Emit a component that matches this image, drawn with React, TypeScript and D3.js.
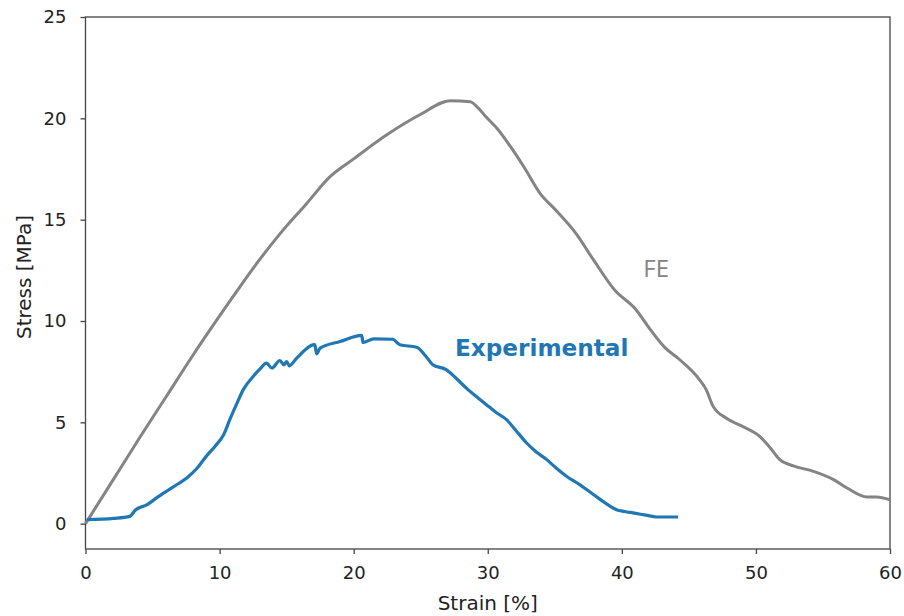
import React, { useEffect, useRef } from 'react'
import * as d3 from 'd3'

// FE simulation curve (strain %, stress MPa)
const feStrain = [0, 2, 4, 6, 8, 10, 11, 12.5, 14.5, 16.5, 18.2, 20, 22.5, 25, 27.2, 28.7, 29.3, 29.9, 30.7, 31.7, 32.7, 33.9, 35.1, 36.6, 37.9, 39.5, 41.0, 42.1, 43.2, 44.3, 45.8, 46.3, 46.8, 47.8, 49.0, 50.3, 51.0, 51.8, 52.8, 54.3, 55.8, 56.8, 58.3, 59.0, 60]
const feStress = [0, 2.1, 4.2, 6.25, 8.3, 10.25, 11.2, 12.6, 14.3, 15.8, 17.1, 18.0, 19.2, 20.2, 20.87, 20.82, 20.5, 20.05, 19.5, 18.6, 17.6, 16.3, 15.45, 14.3, 13.0, 11.5, 10.6, 9.6, 8.7, 8.1, 7.1, 6.6, 5.8, 5.2, 4.8, 4.3, 3.8, 3.15, 2.85, 2.58, 2.17, 1.76, 1.32, 1.32, 1.18]

// experimental curve
const expStrain = [0.1, 2.1, 3.3, 3.7, 4.6, 5.3, 6.05, 6.8, 7.55, 8.3, 9.0, 9.7, 10.3, 10.8, 11.3, 11.8, 12.5, 13.0, 13.5, 13.9, 14.5, 14.8, 15.0, 15.2, 15.75, 17.1, 17.24, 17.5, 19.0, 20.6, 20.7, 21.5, 22.9, 23.45, 24.7, 25.4, 25.9, 26.9, 27.6, 28.4, 29.1, 29.9, 30.6, 31.4, 32.1, 32.9, 33.6, 34.4, 35.1, 35.9, 36.8, 37.9, 38.7, 39.6, 40.2, 40.85, 41.8, 42.6, 43.2, 44.2]
const expStress = [0.2, 0.26, 0.36, 0.66, 0.94, 1.27, 1.6, 1.92, 2.25, 2.72, 3.32, 3.85, 4.39, 5.2, 5.95, 6.65, 7.26, 7.62, 7.92, 7.68, 8.05, 7.84, 8.0, 7.79, 8.17, 8.83, 8.38, 8.66, 8.99, 9.29, 8.94, 9.12, 9.1, 8.83, 8.7, 8.25, 7.84, 7.6, 7.2, 6.69, 6.3, 5.87, 5.5, 5.13, 4.6, 3.98, 3.55, 3.16, 2.75, 2.33, 1.95, 1.43, 1.05, 0.69, 0.6, 0.53, 0.42, 0.33, 0.33, 0.33]

const xTicks = [0, 10, 20, 30, 40, 50, 60]
const yTicks = [0, 5, 10, 15, 20, 25]

const W = 904
const H = 616
const margin = { top: 17, right: 14, bottom: 67, left: 85.5 }

export default function App() {
  const ref = useRef<SVGSVGElement>(null)

  useEffect(() => {
    const svg = d3.select(ref.current)
    svg.selectAll('*').remove()

    const x = d3.scaleLinear().domain([0, 60]).range([margin.left, W - margin.right])
    const y = d3.scaleLinear().domain([-1.25, 25]).range([H - margin.bottom, margin.top])

    const font = 'DejaVu Sans, sans-serif'

    // frame
    svg.append('rect')
      .attr('x', x(0)).attr('y', y(25))
      .attr('width', x(60) - x(0)).attr('height', y(-1.25) - y(25))
      .attr('fill', 'none').attr('stroke', '#444').attr('stroke-width', 1.3)

    const xAxis = svg.append('g')
      .attr('transform', `translate(0, ${y(-1.25)})`)
      .call(d3.axisBottom(x).tickValues(xTicks).tickSize(5).tickPadding(12).tickFormat(d3.format('d')))
    const yAxis = svg.append('g')
      .attr('transform', `translate(${x(0)}, 0)`)
      .call(d3.axisLeft(y).tickValues(yTicks).tickSize(5).tickPadding(14).tickFormat(d3.format('d')))

    ;[xAxis, yAxis].forEach((g) => {
      g.select('.domain').remove()
      g.selectAll('.tick line').attr('stroke', '#444').attr('stroke-width', 1.3)
      g.selectAll('.tick text').attr('font-family', font).attr('font-size', 18).attr('fill', '#222')
    })

    const lineFE = d3.line<number>()
      .x((d, i) => x(feStrain[i]))
      .y((d) => y(d))
      .curve(d3.curveMonotoneX)
    const lineExp = d3.line<number>()
      .x((d, i) => x(expStrain[i]))
      .y((d) => y(d))
      .curve(d3.curveMonotoneX)

    svg.append('path')
      .attr('d', lineFE(feStress))
      .attr('fill', 'none').attr('stroke', '#858383').attr('stroke-width', 3)
      .attr('stroke-linejoin', 'round')
    svg.append('path')
      .attr('d', lineExp(expStress))
      .attr('fill', 'none').attr('stroke', '#1f77b4').attr('stroke-width', 3.2)
      .attr('stroke-linejoin', 'round')

    svg.append('text')
      .attr('x', x(41.6)).attr('y', y(12.3) + 3)
      .attr('font-family', 'Open Sans, sans-serif').attr('font-size', 24)
      .attr('fill', '#858383')
      .text('FE')
    svg.append('text')
      .attr('x', x(27.55)).attr('y', y(8.25))
      .attr('font-family', font).attr('font-weight', 'bold').attr('font-size', 23.2)
      .attr('fill', '#1f77b4')
      .text('Experimental')

    svg.append('text')
      .attr('x', (x(0) + x(60)) / 2).attr('y', 610)
      .attr('text-anchor', 'middle')
      .attr('font-family', font).attr('font-size', 20).attr('fill', '#222')
      .text('Strain [%]')
    svg.append('text')
      .attr('transform', `translate(31, ${(y(25) + y(-1.25)) / 2 - 6}) rotate(-90)`)
      .attr('text-anchor', 'middle')
      .attr('font-family', font).attr('font-size', 20).attr('fill', '#222')
      .text('Stress [MPa]')
  }, [])

  return (
    <svg ref={ref} width={W} height={H}
      style={{ position: 'absolute', left: 0, top: 0, background: '#fff' }} />
  )
}
